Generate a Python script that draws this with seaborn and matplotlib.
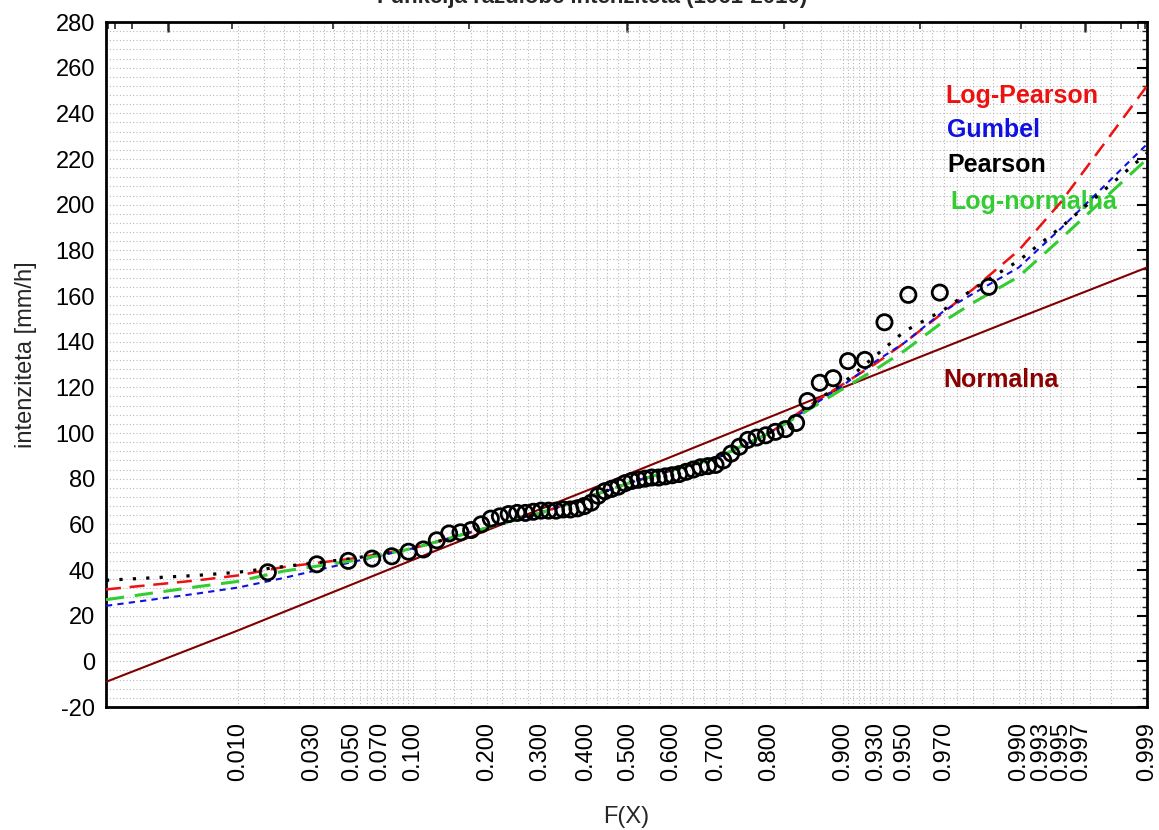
import numpy as np
import pandas as pd
import matplotlib
matplotlib.use("Agg")
import matplotlib.pyplot as plt
from matplotlib.ticker import FixedLocator, NullFormatter
from matplotlib.transforms import ScaledTranslation
import seaborn as sns
from statistics import NormalDist

# observed rainfall intensities (mm/h), sorted ascending
observed = [39, 42.5, 44, 45, 46, 48, 49, 53, 56, 56.5, 57.5, 60, 62.5, 63.5,
            64.5, 65, 65, 65.5, 66, 66, 66, 66.5, 66.5, 67, 68, 69.5, 72.5,
            74.5, 75.5, 76.5, 78, 79, 79.5, 80, 80.5, 80.5, 81, 81.5, 82, 83,
            84, 85, 85.5, 86, 88, 91, 94, 97, 98, 99, 100.5, 101.7, 104.4,
            114, 122, 124, 131.5, 132, 148.5, 160.5, 161.5, 164]

# probabilities at which the fitted curves are tabulated
curve_p = [0.00093, 0.005, 0.01, 0.02, 0.05, 0.1, 0.2, 0.3, 0.4, 0.5, 0.6,
           0.7, 0.8, 0.85, 0.9, 0.93, 0.95, 0.97, 0.98, 0.99, 0.995, 0.999]
log_pearson = [31.5, 35.4, 37.6, 41.3, 45, 49.5, 58.5, 65, 71.5, 78, 83.5,
               89, 100, 110, 121.5, 130.5, 139.5, 153, 163, 180, 201, 252]
gumbel = [24.3, 29.6, 32.3, 36.5, 43.5, 49.5, 58.5, 65, 71.5, 78, 83.5,
          89, 100, 109, 121, 131.5, 139.5, 153.5, 161, 172.5, 189.5, 226.5]
pearson = [35.5, 37.6, 39, 41.5, 45, 49.5, 58.5, 65, 71.5, 78, 83.5,
           89, 100, 110, 122, 134, 144.5, 154, 163, 175.5, 190, 222.5]
log_normal = [27, 32.6, 35, 39.5, 44, 49.5, 58.5, 65, 71.5, 78, 83.5,
              89, 100, 108.5, 119.5, 128, 136, 149, 157, 168.5, 185, 220]
normal_p = [0.00093, 0.01, 0.1, 0.5, 0.9, 0.99, 0.999]
normal_fit = [-9, 13.5, 44.5, 82, 120, 150.5, 172.5]

major_p = [0.01, 0.03, 0.05, 0.07, 0.1, 0.2, 0.3, 0.4, 0.5, 0.6, 0.7, 0.8,
           0.9, 0.93, 0.95, 0.97, 0.99, 0.993, 0.995, 0.997, 0.999]
major_labels = ["0.010", "0.030", "0.050", "0.070", "0.100", "0.200", "0.300",
                "0.400", "0.500", "0.600", "0.700", "0.800", "0.900", "0.930",
                "0.950", "0.970", "0.990", "0.993", "0.995", "0.997", "0.999"]

nd = NormalDist()


def to_z(p):
    p = np.clip(np.asarray(p, dtype=float), 1e-9, 1 - 1e-9)
    return np.vectorize(nd.inv_cdf, otypes=[float])(p)


def from_z(z):
    return np.vectorize(nd.cdf, otypes=[float])(np.asarray(z, dtype=float))


n = len(observed)
plot_pos = [(i + 1) / (n + 1) for i in range(n)]
pts = pd.DataFrame({"F": plot_pos, "x": observed})

sns.set_style("white")
plt.rcParams["font.family"] = ["Liberation Sans", "DejaVu Sans"]
plt.rcParams["axes.unicode_minus"] = False

fig = plt.figure(figsize=(11.59, 8.30), dpi=100)
ax = fig.add_axes([106 / 1159, 1 - 707 / 830, 1041 / 1159, 685 / 830])
ax.set_xscale("function", functions=(to_z, from_z))

grid_kw = dict(color="#b8b8b8", linestyle=(0, (1, 2)), linewidth=0.8)

curves = [
    (log_pearson, "#ee1111", 1.8, (0, (6, 3.5))),
    (gumbel, "#1010e0", 1.5, (0, (3, 2.5))),
    (pearson, "black", 2.3, (0, (1, 3.2))),
    (log_normal, "#33cc33", 2.2, (0, (6, 3.5))),
]
sns.lineplot(x=normal_p, y=normal_fit, ax=ax, color="#800000", lw=1.5,
             sort=False, zorder=3)
for vals, col, lw, ls in curves:
    sns.lineplot(x=curve_p, y=vals, ax=ax, color=col, lw=lw, linestyle=ls,
                 sort=False, zorder=4)

sns.scatterplot(data=pts, x="F", y="x", ax=ax, marker="o", s=120,
                facecolor="none", edgecolor="black", linewidth=2.0, zorder=5)

ax.set_xlim(0.00093, 0.999)
ax.set_ylim(-20, 280)

# minor grid probabilities
minor_p = list(np.round(np.arange(0.015, 0.1, 0.005), 4)) + \
    list(np.round(np.arange(0.125, 0.9, 0.025), 4)) + \
    list(np.round(np.arange(0.905, 0.99, 0.005), 4)) + \
    list(np.round(np.arange(0.991, 0.999, 0.001), 4))
minor_p = [p for p in minor_p if min(abs(p - m) for m in major_p) > 1e-6]

ax.xaxis.set_major_locator(FixedLocator(major_p))
ax.xaxis.set_minor_locator(FixedLocator(minor_p))
ax.set_xticklabels(major_labels, rotation=90)
ax.xaxis.set_minor_formatter(NullFormatter())
ax.yaxis.set_major_locator(FixedLocator(np.arange(-20, 281, 20)))
ax.yaxis.set_minor_locator(FixedLocator(np.arange(-20, 281, 4)))

ax.grid(True, which="both", axis="both", **grid_kw)
ax.set_axisbelow(True)

ax.tick_params(axis="both", which="major", direction="in", length=7,
               width=1.5, labelsize=17, colors="black", pad=8)
ax.tick_params(axis="both", which="minor", direction="in", length=3.5,
               width=1.0)
ax.tick_params(axis="y", which="both", right=True)
ax.tick_params(axis="x", which="major", pad=11)
for s in ax.spines.values():
    s.set_color("black")
    s.set_linewidth(2.0)

# the last-but-one label is pulled slightly towards its neighbours
nudge = {"0.997": -8}
for lab in ax.get_xticklabels():
    dx = nudge.get(lab.get_text(), 0)
    if dx:
        lab.set_transform(lab.get_transform()
                          + ScaledTranslation(dx / 100, 0, fig.dpi_scale_trans))

# top axis with evenly spaced tick marks in the reduced variate
top = ax.secondary_xaxis("top", functions=(to_z, from_z))
top.set_xticks([-1.552, 0.0, 1.552])
top.xaxis.set_minor_locator(FixedLocator(np.arange(-7, 9) * 0.388))
top.tick_params(which="major", direction="in", length=7, width=1.8,
                labeltop=False)
top.tick_params(which="minor", direction="in", length=5, width=1.2)
top.spines["top"].set_visible(False)

ax.set_xlabel("F(X)", fontsize=17)
ax.set_ylabel("intenziteta [mm/h]", fontsize=17)
ax.xaxis.set_label_coords(0.5, -0.145)
ax.yaxis.set_label_coords(-0.066, 0.514)

lab_kw = dict(transform=ax.transAxes, fontsize=18, fontweight="bold",
              va="center", ha="left")
ax.text(0.806, 0.892, "Log-Pearson", color="#ee1111", **lab_kw)
ax.text(0.808, 0.842, "Gumbel", color="#1010e0", **lab_kw)
ax.text(0.808, 0.791, "Pearson", color="black", **lab_kw)
ax.text(0.811, 0.737, "Log-normalna", color="#33cc33", **lab_kw)
ax.text(0.804, 0.477, "Normalna", color="#8b0000", **lab_kw)

fig.text(0.511, 1 - 3 / 830, "Funkcija razdiobe intenziteta (1961-2010)",
         ha="center", va="baseline", fontsize=16, fontweight="bold")

fig.savefig("out.png", dpi=100, facecolor="white")
